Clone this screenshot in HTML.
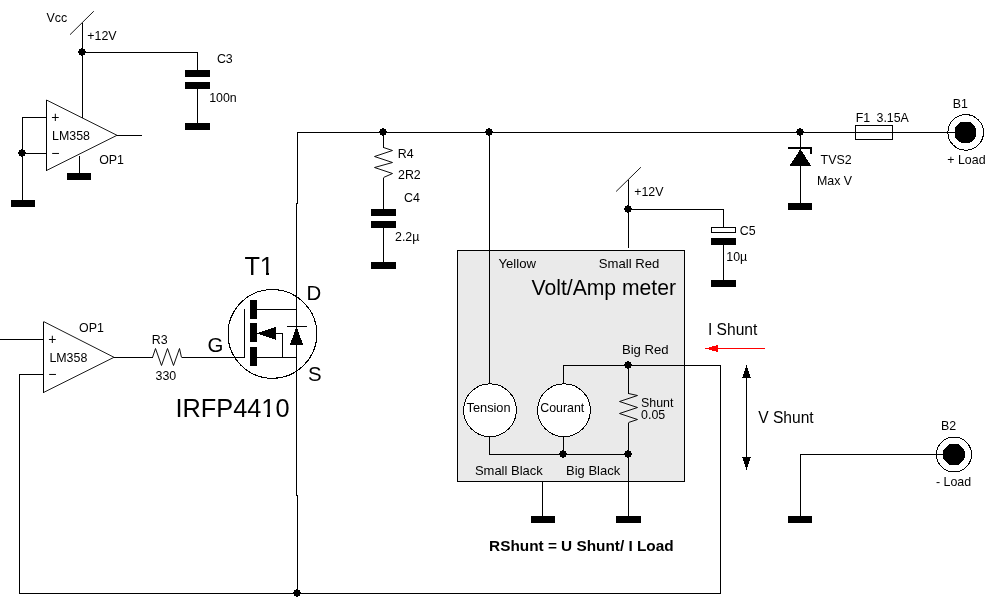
<!DOCTYPE html>
<html>
<head>
<meta charset="utf-8">
<title>Electronic load schematic</title>
<style>
html,body{margin:0;padding:0;background:#fff;}
body{width:1002px;height:615px;overflow:hidden;}
svg{display:block;will-change:transform;transform:translateZ(0);}
path,circle,rect{shape-rendering:crispEdges;}
text{font-family:"Liberation Sans",Arial,sans-serif;fill:#000;}
.t12{font-size:12.4px;}
.t13{font-size:13.15px;}
.t14{font-size:14px;}
.t15{font-size:15.6px;}
.t20{font-size:20.4px;}
.t21{font-size:21.15px;}
.t24{font-size:25.33px;}
.w{stroke:#000;stroke-width:1;fill:none;stroke-linejoin:round;}
.k{fill:#000;stroke:none;}
</style>
</head>
<body>
<svg width="1002" height="615" viewBox="0 0 1002 615">
<rect x="0" y="0" width="1002" height="615" fill="#fff"/>

<!-- ===== meter box ===== -->
<g id="meterbox">
<rect x="457.5" y="250.5" width="227" height="231" fill="#eaeaea" stroke="#000" stroke-width="1"/>
</g>

<!-- ===== top-left op amp with supply ===== -->
<g id="opamp-top">
<path class="w" d="M82.5 22.5V117.5"/>
<path class="w" style="stroke-width:.9" d="M70 34.7L93.8 11.2"/>
<path class="w" d="M82.5 52.5H197.5V70"/>
<path class="k" transform="translate(82,52)" d="M-3-3h2v-1h2v1h2v2h1v2h-1v2h-2v1h-2v-1h-2v-2h-1v-2h1z"/>
<rect class="k" x="185" y="70" width="25" height="7"/>
<rect class="k" x="185" y="82" width="25" height="7"/>
<path class="w" d="M197.5 89V123"/>
<rect class="k" x="185" y="123" width="25" height="7"/>
<path class="w" d="M46.5 100V170.5"/>
<path class="w" style="stroke-width:.9" d="M46.5 100L117 135.3L46.5 170.5"/>
<path class="w" d="M117 135.5H142"/>
<path class="w" d="M46.5 117.5H22.5V200"/>
<path class="w" d="M46.5 153.5H22.5"/>
<path class="k" transform="translate(22,153)" d="M-3-3h2v-1h2v1h2v2h1v2h-1v2h-2v1h-2v-1h-2v-2h-1v-2h1z"/>
<rect class="k" x="11" y="200" width="24" height="7"/>
<path class="w" d="M79.5 156V173.5"/>
<rect class="k" x="67" y="173" width="24" height="7"/>
<text class="t12" x="46.5" y="22">Vcc</text>
<text class="t12" x="87.3" y="40">+12V</text>
<text class="t14" x="51.2" y="121.9">+</text>
<text class="t12" x="52.1" y="140">LM358</text>
<text class="t14" x="51.2" y="158.4">−</text>
<text class="t12" x="99.2" y="163.9">OP1</text>
<text class="t12" x="216.9" y="63">C3</text>
<text class="t12" x="209.2" y="101.7">100n</text>
</g>

<!-- ===== bottom op amp, R3 ===== -->
<g id="opamp-bottom">
<path class="w" d="M43.5 321.5V392.5"/>
<path class="w" style="stroke-width:.9" d="M43.5 321.5L114 357.3L43.5 392.5"/>
<path class="w" d="M0 339.5H43.5"/>
<path class="w" d="M43.5 374.5H19.5V593.5H720.5V365.5H563.5V383.5"/>
<path class="w" d="M114 357.5H152.5M181.5 357.5H244.5V309"/>
<path class="w" style="stroke-width:.95" d="M152.5 357.5L155.5 348.5L161.5 365.5L167.5 348.5L173.5 365.5L179.5 348.5L181.5 357.5"/>
<text class="t12" x="79.1" y="331.5">OP1</text>
<text class="t14" x="48.2" y="343.5">+</text>
<text class="t12" x="49.4" y="361.6">LM358</text>
<text class="t14" x="48.2" y="379.2">−</text>
<text class="t12" x="151.7" y="343.5">R3</text>
<text class="t12" x="155.5" y="380">330</text>
</g>

<!-- ===== MOSFET T1 ===== -->
<g id="mosfet">
<circle class="w" cx="272.4" cy="333.9" r="44.4"/>
<rect class="k" x="250" y="300" width="7" height="18.5"/>
<rect class="k" x="250" y="323" width="7" height="19"/>
<rect class="k" x="250" y="347" width="7" height="18.5"/>
<path class="w" d="M257 309.5H296.5"/>
<path class="w" d="M257 357.5H296.5"/>
<path class="k" d="M256.6 333.3L275.8 326.8V339.8Z"/>
<path class="w" d="M275.8 333.5H282.5V357.5"/>
<path class="w" d="M287 326.5H307"/>
<path class="k" d="M296.5 326L290 344.8H303Z"/>
<text class="t24" x="244.4" y="275.2">T1</text>
<text class="t20" x="306.5" y="299.5">D</text>
<text class="t20" x="207.6" y="352">G</text>
<text class="t20" x="308" y="381.2">S</text>
<text class="t24" x="175.5" y="417">IRFP4410</text>
<!-- hide foot serif of the digit 1 (Arial-style 1 has none) -->
<rect x="260" y="273" width="6" height="2.6" fill="#fff"/><rect x="269" y="273" width="5" height="2.6" fill="#fff"/>
<rect x="262" y="415" width="5" height="2.6" fill="#fff"/><rect x="270" y="415" width="5" height="2.6" fill="#fff"/>
</g>

<!-- ===== main rail ===== -->
<g id="rail">
<path class="w" d="M297.5 593.5V495.5H296.5V203H297.5V132.5H955"/>
<path class="k" transform="translate(297,593)" d="M-3-3h2v-1h2v1h2v2h1v2h-1v2h-2v1h-2v-1h-2v-2h-1v-2h1z"/>
<path class="k" transform="translate(383,132)" d="M-3-3h2v-1h2v1h2v2h1v2h-1v2h-2v1h-2v-1h-2v-2h-1v-2h1z"/>
<path class="k" transform="translate(489,132)" d="M-3-3h2v-1h2v1h2v2h1v2h-1v2h-2v1h-2v-1h-2v-2h-1v-2h1z"/>
<path class="k" transform="translate(800,132)" d="M-3-3h2v-1h2v1h2v2h1v2h-1v2h-2v1h-2v-1h-2v-2h-1v-2h1z"/>
</g>

<!-- ===== R4 / C4 snubber ===== -->
<g id="snubber">
<path class="w" d="M383.5 132.5V147.5M383.5 177.5V209"/>
<path class="w" style="stroke-width:.95" d="M383.5 147.5L392.5 150.5L374.5 156.5L392.5 162.5L374.5 167.5L392.5 173.5L383.5 177.5"/>
<rect class="k" x="371" y="209" width="25" height="7"/>
<rect class="k" x="371" y="221" width="25" height="7"/>
<path class="w" d="M383.5 228V262"/>
<rect class="k" x="371" y="262" width="25" height="7"/>
<text class="t12" x="397.7" y="157.5">R4</text>
<text class="t12" x="398" y="179.1">2R2</text>
<text class="t12" x="404" y="201.5">C4</text>
<text class="t12" x="395" y="240.6">2.2µ</text>
</g>

<!-- ===== meter internals ===== -->
<g id="meter">
<path class="w" d="M489.5 132.5V383.5"/>
<path class="w" d="M489.5 436.5V454.5H628.5"/>
<path class="w" d="M563.5 436.5V454.5"/>
<circle cx="490" cy="410.2" r="26.4" fill="#fff" stroke="#000" stroke-width="1"/>
<circle cx="564" cy="410.2" r="26.4" fill="#fff" stroke="#000" stroke-width="1"/>
<path class="w" d="M628.5 365.5V393.5M628.5 422.5V516"/>
<path class="w" style="stroke-width:.95" d="M628.5 393.5L637.5 395.5L619.5 401.5L637.5 407.5L619.5 413.5L637.5 419.5L628.5 422.5"/>
<path class="k" transform="translate(628,365)" d="M-3-3h2v-1h2v1h2v2h1v2h-1v2h-2v1h-2v-1h-2v-2h-1v-2h1z"/>
<path class="k" transform="translate(563,454)" d="M-3-3h2v-1h2v1h2v2h1v2h-1v2h-2v1h-2v-1h-2v-2h-1v-2h1z"/>
<path class="k" transform="translate(628,454)" d="M-3-3h2v-1h2v1h2v2h1v2h-1v2h-2v1h-2v-1h-2v-2h-1v-2h1z"/>
<path class="w" d="M542.5 481.5V516"/>
<rect class="k" x="531" y="516" width="24" height="7"/>
<rect class="k" x="616" y="516" width="25" height="7"/>
<text class="t13" x="498.5" y="267.7">Yellow</text>
<text class="t13" x="598.8" y="267.6">Small Red</text>
<text class="t21" x="531.5" y="295">Volt/Amp meter</text>
<text class="t13" x="621.9" y="353.5">Big Red</text>
<text class="t12" x="466.5" y="411.6" style="font-size:12.8px">Tension</text>
<text class="t12" x="540.2" y="411.6">Courant</text>
<text class="t12" x="641" y="406.6">Shunt</text>
<text class="t12" x="641.1" y="419">0.05</text>
<text class="t13" x="474.9" y="474.5" style="font-size:13px">Small Black</text>
<text class="t13" x="566" y="474.5" style="font-size:13px">Big Black</text>
<text class="t15" x="489.1" y="551.1" font-weight="bold" style="font-size:15.35px">RShunt = U Shunt/ I Load</text>
</g>

<!-- ===== +12V to meter, C5 ===== -->
<g id="supply2">
<path class="w" d="M628.5 180V247.5"/>
<path class="w" style="stroke-width:.9" d="M616.1 191.5L640.9 167.2"/>
<path class="w" d="M628.5 209.5H723.5V227.5"/>
<path class="k" transform="translate(628,209)" d="M-3-3h2v-1h2v1h2v2h1v2h-1v2h-2v1h-2v-1h-2v-2h-1v-2h1z"/>
<rect x="711.5" y="227.5" width="24" height="5" fill="#fff" stroke="#000" stroke-width="1"/>
<rect class="k" x="711" y="238" width="25" height="7"/>
<path class="w" d="M723.5 245V280"/>
<rect class="k" x="711" y="280" width="25" height="7"/>
<text class="t12" x="634.2" y="195.7">+12V</text>
<text class="t12" x="739.8" y="234.7">C5</text>
<text class="t12" x="726.3" y="261.3">10µ</text>
</g>

<!-- ===== TVS, fuse, B1 ===== -->
<g id="output">
<path class="w" d="M800.5 132.5V203"/>
<path d="M787.5 148H811V154" fill="none" stroke="#000" stroke-width="2"/>
<path class="k" d="M800.5 149L789.5 165.7H811Z"/>
<rect class="k" x="788" y="203" width="24" height="7"/>
<rect x="855.5" y="125.5" width="37" height="14" fill="none" stroke="#000" stroke-width="1"/>
<circle class="w" cx="965.7" cy="132.4" r="17.8"/>
<path transform="translate(965.5,132.5)" d="M-7.2-3L-3-7.2H3L7.2-3V3L3 7.2H-3L-7.2 3Z" fill="#000" stroke="#000" stroke-width="7" stroke-linejoin="round"/>
<text class="t12" x="820.6" y="163.7">TVS2</text>
<text class="t12" x="817" y="184.6">Max V</text>
<text class="t12" x="855.8" y="121.7">F1</text>
<text class="t12" x="876.5" y="121.7">3.15A</text>
<text class="t12" x="952.7" y="108.2">B1</text>
<text class="t12" x="947.3" y="164.3">+ Load</text>
</g>

<!-- ===== shunt annotations, B2 ===== -->
<g id="annot">
<text class="t15" x="707.9" y="335.2">I Shunt</text>
<path d="M705 348.5H765" stroke="#f00" stroke-width="1" fill="none"/>
<path d="M705 348.5L717.6 345V352Z" fill="#f00"/>
<path class="w" d="M746.5 366V469"/>
<path class="k" d="M746.5 365L742.2 378H750.8Z"/>
<path class="k" d="M746.5 470L742.2 457.3H750.8Z"/>
<text class="t15" x="758.2" y="423">V Shunt</text>
<path class="w" d="M944 454.5H800.5V516"/>
<rect class="k" x="788" y="516" width="24" height="7"/>
<circle class="w" cx="954" cy="454.5" r="17.5"/>
<path transform="translate(954,454.5)" d="M-7.2-3L-3-7.2H3L7.2-3V3L3 7.2H-3L-7.2 3Z" fill="#000" stroke="#000" stroke-width="7" stroke-linejoin="round"/>
<text class="t12" x="941.1" y="429.6">B2</text>
<text class="t12" x="936" y="485.7">- Load</text>
</g>
</svg>
</body>
</html>
